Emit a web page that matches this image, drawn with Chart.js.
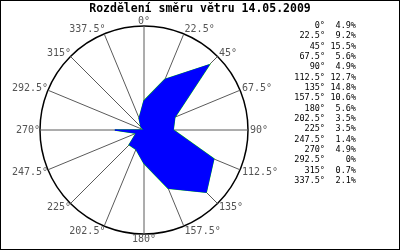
<!DOCTYPE html>
<html>
<head>
<meta charset="utf-8">
<script src="https://cdn.jsdelivr.net/npm/chart.js@4"></script>
<style>
html,body{margin:0;padding:0;background:#fff;}
#wrap{position:relative;width:400px;height:250px;overflow:hidden;background:#fff;}
canvas{position:absolute;left:0;top:0;}
#frame{position:absolute;left:0;top:0;width:398px;height:248px;border:1px solid #000;pointer-events:none;}
#title{position:absolute;left:0;top:1px;width:400px;text-align:center;font:bold 11.5px "DejaVu Sans Mono";line-height:15px;color:#000;white-space:nowrap;}
#legend{position:absolute;left:270px;top:20px;display:grid;grid-template-columns:55px 31px;grid-auto-rows:10.33px;font:8.5px "DejaVu Sans Mono";line-height:10.33px;color:#000;}
#legend span{text-align:right;white-space:nowrap;}
</style>
</head>
<body>
<div id="wrap">
  <canvas id="c" width="400" height="250"></canvas>
  <div id="title">Rozdělení směru větru 14.05.2009</div>
  <div id="legend"></div>
  <div id="frame"></div>
</div>
<script>
const titleText = 'Rozdělení směru větru 14.05.2009';
const directions = ['0°','22.5°','45°','67.5°','90°','112.5°','135°','157.5°','180°','202.5°','225°','247.5°','270°','292.5°','315°','337.5°'];
const shares = [4.9, 9.2, 15.5, 5.6, 4.9, 12.7, 14.8, 10.6, 5.6, 3.5, 3.5, 1.4, 4.9, 0, 0.7, 2.1];
const scaleMax = 17.5;

document.getElementById('title').textContent = titleText;
const legendEl = document.getElementById('legend');
directions.forEach((d, i) => {
  const a = document.createElement('span'); a.textContent = d;
  const b = document.createElement('span'); b.textContent = shares[i] + '%';
  legendEl.appendChild(a); legendEl.appendChild(b);
});

const compassLabels = {
  id: 'compassLabels',
  afterDraw(chart) {
    const s = chart.scales.r;
    const ctx = chart.ctx;
    ctx.save();
    ctx.font = '10px "DejaVu Sans Mono"';
    ctx.fillStyle = '#555555';
    ctx.textBaseline = 'middle';
    chart.data.labels.forEach((lab, i) => {
      const p = s.getPointPosition(i, s.drawingArea);
      const a = s.getIndexAngle(i);
      const sn = Math.sin(a), cs = Math.cos(a);
      let x = p.x, align = 'center';
      if (sn > 0.01) { align = 'left'; x = p.x + 2 * sn; }
      else if (sn < -0.01) { align = 'right'; x = p.x + 2 * sn + 2; }
      const y = p.y - cs * 5 + 0.5;
      ctx.textAlign = align;
      ctx.fillText(lab, x, y);
    });
    ctx.restore();
  }
};

new Chart(document.getElementById('c'), {
  type: 'radar',
  data: {
    labels: directions,
    datasets: [
      {
        data: shares,
        fill: 'origin',
        backgroundColor: '#0000ff',
        borderColor: '#0000ff',
        borderWidth: 1,
        pointRadius: 0,
        tension: 0
      },
      {
        data: shares,
        fill: false,
        borderColor: '#00cc00',
        borderWidth: 1.6,
        pointRadius: 0,
        tension: 0
      }
    ]
  },
  options: {
    responsive: false,
    animation: false,
    devicePixelRatio: 1,
    layout: { padding: { left: 40, top: 26, right: 152, bottom: 16 } },
    plugins: { legend: { display: false }, tooltip: { enabled: false }, title: { display: false } },
    scales: {
      r: {
        min: 0,
        max: scaleMax,
        ticks: { display: false, stepSize: scaleMax },
        pointLabels: { display: false },
        grid: { color: '#000000', lineWidth: 1.5, circular: true },
        angleLines: { color: '#5a5a5a', lineWidth: 1 }
      }
    }
  },
  plugins: [compassLabels]
});
</script>
</body>
</html>
